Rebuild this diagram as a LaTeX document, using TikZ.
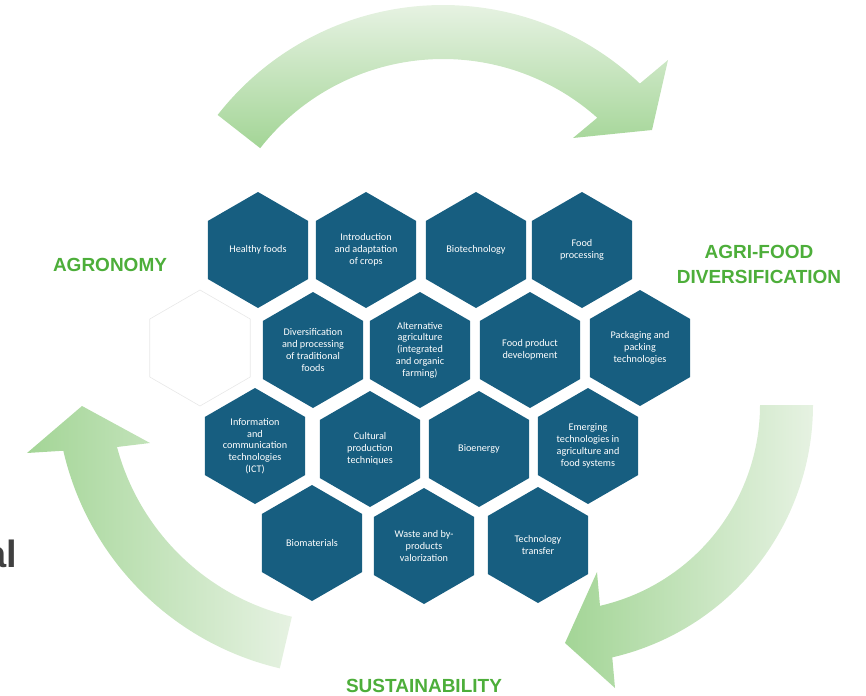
\documentclass[tikz,border=0pt]{standalone}
\usepackage{fontspec}
\setmainfont{Carlito}
\newfontfamily\labfont{Liberation Sans}
\usetikzlibrary{backgrounds}
\definecolor{hexblue}{HTML}{175E80}
\definecolor{labgreen}{HTML}{4DAE3A}
\definecolor{arrdark}{HTML}{A3D596}
\definecolor{arrlight}{HTML}{E6F2E2}
\definecolor{greytext}{HTML}{404040}
\begin{document}
\begin{tikzpicture}[x=1pt,y=-1pt,
  hextext/.style={text=white, font=\fontsize{10.2}{11.8}\selectfont, align=center, inner sep=0pt},
  hexfill/.style={fill=hexblue},
  ghosthex/.style={draw=black!9, line width=0.6pt, fill=white},
  catlabel/.style={text=labgreen, font=\labfont\bfseries\fontsize{19}{25}\selectfont, align=center, inner sep=0pt},
  arrowband/.style={draw=none}
]
\useasboundingbox (0,0) rectangle (866,695);
\clip (0,0) rectangle (866,695);

% curved arrows
\shade[arrowband, top color=arrlight, bottom color=arrdark]
  plot[domain=-142:-46.5, samples=80] ({443+286*cos(\x)},{291+286*sin(\x)})
  -- (668,60) -- (652,130) -- (573,138) -- (597,118)
  -- plot[domain=-48.3:-142, samples=80] ({443+232*cos(\x)},{291+232*sin(\x)}) -- cycle;
\shade[arrowband, left color=arrdark, right color=arrlight]
  plot[domain=0:77, samples=80] ({554+259*cos(\x)},{405+259*sin(\x)})
  -- (615,688) -- (565,643) -- (597,572) -- (600,606)
  -- plot[domain=77:0, samples=80] ({554+206*cos(\x)},{405+206*sin(\x)}) -- cycle;
\shade[arrowband, left color=arrdark, right color=arrlight]
  plot[domain=103.2:167.1, samples=80] ({346+290*cos(\x)},{386+290*sin(\x)})
  -- (27,453) -- (82,406) -- (150,443) -- (117,447)
  -- plot[domain=165.1:103.2, samples=80] ({346+237*cos(\x)},{386+237*sin(\x)}) -- cycle;

% faint hexagon
\coordinate (ghost) at (200,348);
\draw[ghosthex] (ghost) +(30:58) -- +(90:58) -- +(150:58) -- +(210:58) -- +(270:58) -- +(330:58) -- cycle;

% hexagon texts
\node[hextext] (h1) at (258,250) {Healthy foods};
\node[hextext] (h2) at (366,250) {Introduction\\and adaptation\\of crops};
\node[hextext] (h3) at (476,250) {Biotechnology};
\node[hextext] (h4) at (582,250) {Food\\processing};
\node[hextext] (h5) at (313,350) {Diversification\\and processing\\of traditional\\foods};
\node[hextext] (h6) at (420,350) {Alternative\\agriculture\\(integrated\\and organic\\farming)};
\node[hextext] (h7) at (530,350) {Food product\\development};
\node[hextext] (h8) at (640,348) {Packaging and\\packing\\technologies};
\node[hextext] (h9) at (255,446) {Information\\and\\communication\\technologies\\(ICT)};
\node[hextext] (h10) at (370,449) {Cultural\\production\\techniques};
\node[hextext] (h11) at (479,449) {Bioenergy};
\node[hextext] (h12) at (588,446) {Emerging\\technologies in\\agriculture and\\food systems};
\node[hextext] (h13) at (312,543) {Biomaterials};
\node[hextext] (h14) at (424,546) {Waste and by-\\products\\valorization};
\node[hextext] (h15) at (538,545) {Technology\\transfer};

\begin{scope}[on background layer]
\foreach \n in {h1,h2,h3,h4,h5,h6,h7,h8,h9,h10,h11,h12,h13,h14,h15}
  \fill[hexfill] (\n.center) +(30:58) -- +(90:58) -- +(150:58) -- +(210:58) -- +(270:58) -- +(330:58) -- cycle;
\end{scope}

% category labels
\node[catlabel] (agro) at (110,265) {AGRONOMY};
\node[catlabel] (agrifood) at (759,264) {AGRI-FOOD\\DIVERSIFICATION};
\node[catlabel] (sust) at (424,686) {SUSTAINABILITY};

% clipped word at left edge
\node[font=\labfont\bfseries\fontsize{38}{40}\selectfont, text=greytext, anchor=base east, inner sep=0pt] (cut) at (17,567) {al};
\end{tikzpicture}
\end{document}
